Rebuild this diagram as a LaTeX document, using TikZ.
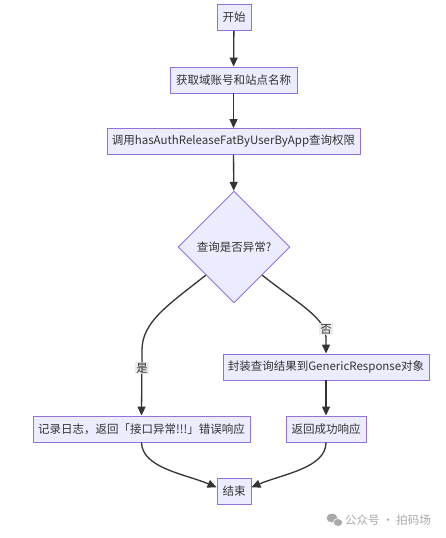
\documentclass[tikz,border=0pt]{standalone}
\usepackage{fontspec}
\setmainfont{Noto Sans CJK SC}
\usetikzlibrary{shapes.geometric,arrows.meta}
\definecolor{boxfill}{HTML}{ECECFF}
\definecolor{boxline}{HTML}{9370DB}
\definecolor{ink}{HTML}{333333}
\definecolor{lblbg}{HTML}{E8E8E8}
\definecolor{wm}{HTML}{AAAAAA}
\tikzset{
  proc/.style={draw=boxline, fill=boxfill, line width=0.9pt, rectangle, minimum height=26pt, inner sep=0pt, text=ink, font=\fontsize{11.5}{13}\selectfont},
  decide/.style={draw=boxline, fill=boxfill, line width=0.9pt, diamond, aspect=1, minimum width=112pt, minimum height=112pt, inner sep=0pt, text=ink, font=\fontsize{11.5}{13}\selectfont},
  flow/.style={draw=ink, line width=1.3pt, -{Triangle[length=9pt,width=8pt]}},
  lbl/.style={fill=lblbg, fill opacity=0.8, text opacity=1, text=ink, inner sep=1pt, font=\fontsize{11.5}{13}\selectfont},
}
\begin{document}
\begin{tikzpicture}[x=1pt,y=-1pt]
\fill[white] (0,0) rectangle (445,538);
\useasboundingbox (0,0) rectangle (445,538);
\node[proc, minimum width=34pt] (start) at (234,17.5) {开始};
\node[proc, minimum width=127pt] (get) at (233.5,80) {获取域账号和站点名称};
\node[proc, minimum width=253pt] (call) at (233.5,141.5) {调用hasAuthReleaseFatByUserByApp查询权限};
\node[decide] (q) at (234,247) {查询是否异常?};
\node[proc, minimum width=206pt] (wrap) at (326,367) {封装查询结果到GenericResponse对象};
\node[proc, minimum width=217pt] (err) at (141.5,429) {记录日志，返回「接口异常!!!」错误响应};
\node[proc, minimum width=80pt] (ok) at (326,429) {返回成功响应};
\node[proc, minimum width=34pt] (end) at (234,491) {结束};
\coordinate (lbend) at (142,350);
\coordinate (rbend) at (326,338);
\draw[flow] (start) -- (get);
\draw[flow] (get) -- (call);
\draw[flow] (call) -- (q);
\draw[flow] (q.south west) .. controls (168,305) and (142,322) .. (lbend) -- (err.north);
\draw[flow] (q.south east) .. controls (300,305) and (326,318) .. (rbend) -- (wrap.north);
\draw[flow] (wrap) -- (ok);
\draw[flow] (err.south) .. controls (142,468) and (185,474) .. (end.168);
\draw[flow] (ok.south) .. controls (326,468) and (283,474) .. (end.12);
\node[lbl] (yes) at (142,368) {是};
\node[lbl] (no) at (326,329) {否};
\fill[wm] (332,518) ellipse (5.5 and 4.5);
\fill[white] (338,522.5) ellipse (5 and 4.2);
\fill[wm] (338,522.5) ellipse (4.2 and 3.5);
\node[text=wm, anchor=west, inner sep=0pt, font=\fontsize{11.5}{13}\selectfont] (wmtext) at (345,520) {公众号 · 拍码场};
\end{tikzpicture}
\end{document}
